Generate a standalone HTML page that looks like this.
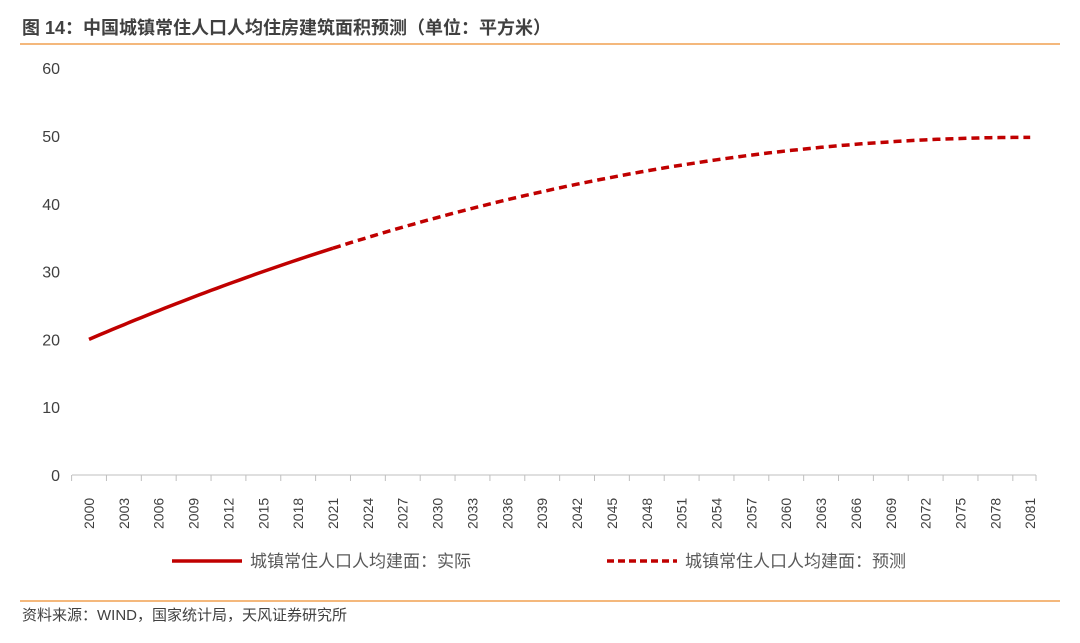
<!DOCTYPE html>
<html><head><meta charset="utf-8"><style>
body{margin:0;background:#fff;width:1080px;height:638px;overflow:hidden;font-family:"Liberation Sans","Noto Sans CJK SC",sans-serif}
</style></head><body>
<svg id="s" width="1080" height="638" xmlns="http://www.w3.org/2000/svg" font-family="Liberation Sans, Noto Sans CJK SC, sans-serif">
<text x="22" y="34" font-size="18" font-weight="bold" fill="#404040">图 14：中国城镇常住人口人均住房建筑面积预测（单位：平方米）</text>
<line x1="20" y1="44" x2="1060" y2="44" stroke="#f0a050" stroke-width="1.5"/>
<line x1="20" y1="601" x2="1060" y2="601" stroke="#f0a050" stroke-width="1.5"/>
<text x="22" y="620" font-size="15" fill="#404040">资料来源：WIND，国家统计局，天风证券研究所</text>
<g id="g"></g>
<line x1="172" y1="561" x2="242" y2="561" stroke="#c00000" stroke-width="3.5"/>
<text x="250" y="567" font-size="17" fill="#595959">城镇常住人口人均建面：实际</text>
<line x1="607" y1="561" x2="677" y2="561" stroke="#c00000" stroke-width="3.5" stroke-dasharray="7,4"/>
<text x="685" y="567" font-size="17" fill="#595959">城镇常住人口人均建面：预测</text>
</svg>
<script>
var g=document.getElementById('g'),h='';
function X(t){return 89+11.62*(t-2000)}function Y(v){return 475-6.78*v}
for(var v=0;v<=60;v+=10)h+='<text x="60" y="'+(Y(v)+6)+'" font-size="16" fill="#404040" text-anchor="end">'+v+'</text>';
h+='<line x1="72" y1="475" x2="1036" y2="475" stroke="#bfbfbf"/>';
for(var t=2000;t<=2081;t+=3){var x=X(t);h+='<line x1="'+(x-17.4)+'" y1="475" x2="'+(x-17.4)+'" y2="481" stroke="#bfbfbf"/>';
h+='<text transform="translate('+(x+5)+',529) rotate(-90)" font-size="14" fill="#404040">'+t+'</text>';}
h+='<line x1="1036" y1="475" x2="1036" y2="481" stroke="#bfbfbf"/>';
function f(t){return 49.8-0.004542*Math.pow(2081-t,2)}
var a='',b='';for(var t=2000;t<=2021;t+=0.5)a+=(t==2000?'M':'L')+X(t).toFixed(1)+','+Y(f(t)).toFixed(1);
for(var t=2021;t<=2081;t+=0.5)b+=(t==2021?'M':'L')+X(t).toFixed(1)+','+Y(f(t)).toFixed(1);
h+='<path d="'+a+'" fill="none" stroke="#c00000" stroke-width="3.5"/>';
h+='<path d="'+b+'" fill="none" stroke="#c00000" stroke-width="3.5" stroke-dasharray="8,5"/>';
g.innerHTML=h;
</script>
</body></html>
